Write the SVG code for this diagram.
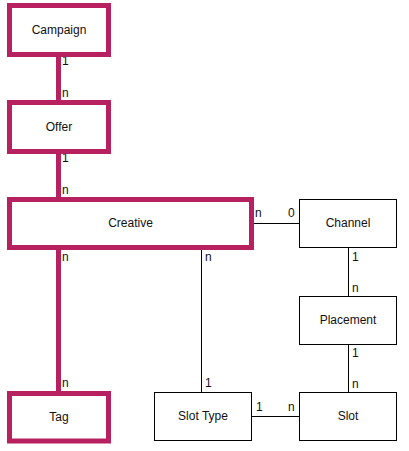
<svg xmlns="http://www.w3.org/2000/svg" width="409" height="451" viewBox="0 0 409 451">
<style>
.thick{fill:#fff;stroke:#B8215F;stroke-width:5}
.thin{fill:#fff;stroke:#000;stroke-width:1}
.lt{fill:none;stroke:#B8215F;stroke-width:5}
.ln{fill:none;stroke:#000;stroke-width:1}
text{font-family:"Liberation Sans",Arial,sans-serif;font-size:12px;fill:#111}
.c{text-anchor:middle}
</style>
<rect width="409" height="451" fill="#fff"/>
<g id="connectors">
<line class="lt" x1="58.5" y1="57" x2="58.5" y2="100"/>
<line class="lt" x1="58.5" y1="154" x2="58.5" y2="197"/>
<line class="lt" x1="58.5" y1="250" x2="58.5" y2="391"/>
<line class="ln" x1="201.5" y1="250" x2="201.5" y2="392"/>
<line class="ln" x1="254" y1="223.5" x2="299" y2="223.5"/>
<line class="ln" x1="348.5" y1="247" x2="348.5" y2="296"/>
<line class="ln" x1="348.5" y1="344" x2="348.5" y2="392"/>
<line class="ln" x1="252" y1="416.5" x2="299" y2="416.5"/>
<text x="62" y="65">1</text>
<text x="62" y="97">n</text>
<text x="62" y="162">1</text>
<text x="62" y="194">n</text>
<text x="62" y="261">n</text>
<text x="62" y="387">n</text>
<text x="205" y="261">n</text>
<text x="205" y="387">1</text>
<text x="255" y="217">n</text>
<text x="288" y="217">0</text>
<text x="352" y="261">1</text>
<text x="352" y="292">n</text>
<text x="352" y="357">1</text>
<text x="352" y="388">n</text>
<text x="256" y="411">1</text>
<text x="288" y="411">n</text>
</g>
<g id="campaign"><rect class="thick" x="9.5" y="5.5" width="99" height="49"/><text class="c" x="59" y="34">Campaign</text></g>
<g id="offer"><rect class="thick" x="9.5" y="102.5" width="99" height="49"/><text class="c" x="59" y="131">Offer</text></g>
<g id="creative"><rect class="thick" x="9.5" y="199.5" width="242" height="48"/><text class="c" x="130.5" y="227">Creative</text></g>
<g id="tag"><rect class="thick" x="9.5" y="393.5" width="99" height="47.5"/><text class="c" x="59" y="421">Tag</text></g>
<g id="channel"><rect class="thin" x="299.5" y="199.5" width="97" height="48"/><text class="c" x="348" y="227">Channel</text></g>
<g id="placement"><rect class="thin" x="299.5" y="296.5" width="97" height="48"/><text class="c" x="348" y="324">Placement</text></g>
<g id="slot"><rect class="thin" x="299.5" y="392.5" width="97" height="48"/><text class="c" x="348" y="420">Slot</text></g>
<g id="slottype"><rect class="thin" x="154.5" y="392.5" width="97" height="48"/><text class="c" x="203" y="420">Slot Type</text></g>
</svg>
